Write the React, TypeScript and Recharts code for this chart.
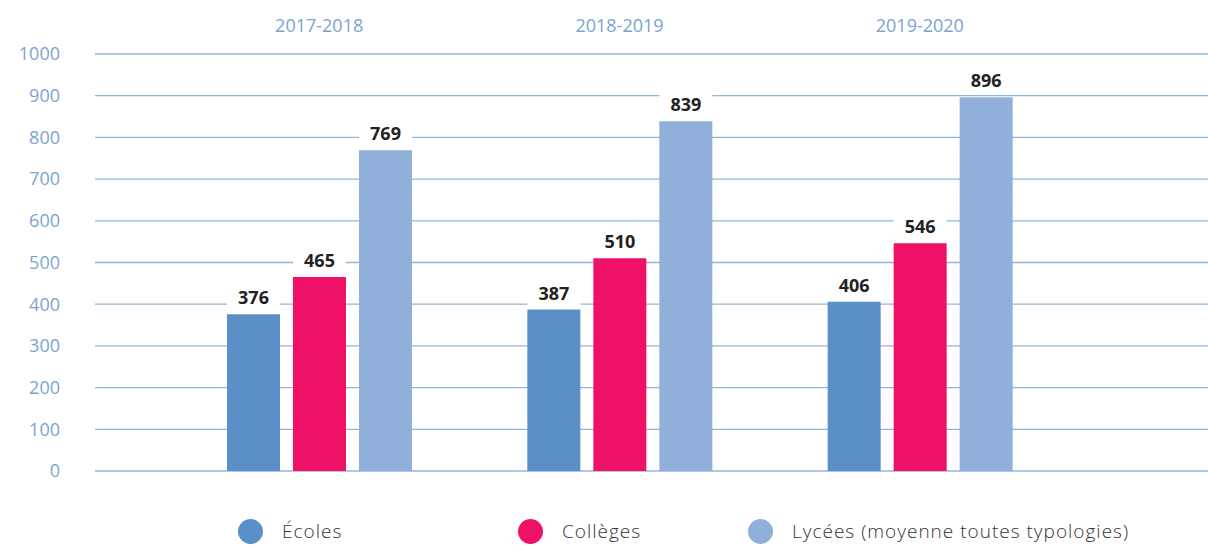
import React from "react";
import { BarChart, Bar, XAxis, YAxis, CartesianGrid, LabelList } from "recharts";

// ── data ─────────────────────────────────────────────────────────────────────

const categories = ["2017-2018", "2018-2019", "2019-2020"];
const ecoles = [376, 387, 406];
const colleges = [465, 510, 546];
const lycees = [769, 839, 896];
const yTicks = [0, 100, 200, 300, 400, 500, 600, 700, 800, 900, 1000];

const series = [
  { key: "ecoles", name: "Écoles", values: ecoles, color: "#5b8fc8" },
  { key: "colleges", name: "Collèges", values: colleges, color: "#ee1166" },
  { key: "lycees", name: "Lycées (moyenne toutes typologies)", values: lycees, color: "#90afd9" },
];

const data = categories.map((c, i) => {
  const row: Record<string, string | number> = { year: c };
  series.forEach((s) => { row[s.key] = s.values[i]; });
  return row;
});

const FONT = "'Open Sans', 'Noto Sans', sans-serif";
const GRID = "#93b4db";
const TICK = "#7ca3d2";

// white-backed value label sitting above each bar
// eslint-disable-next-line @typescript-eslint/no-explicit-any
function ValueLabel(props: any) {
  const { x, y, width, value } = props;
  return (
    <g>
      <rect x={x} y={y - 31} width={width} height={27} fill="#fff" />
      <text
        x={x + width / 2}
        y={y - 10}
        textAnchor="middle"
        fontFamily={FONT}
        fontWeight={700}
        fontSize={18}
        fill="#222"
      >
        {value}
      </text>
    </g>
  );
}

const legendWidths = [280, 230, 420];

export default function App() {
  return (
    <div style={{ position: "absolute", left: 0, top: 0, width: 1208, height: 545, background: "#fff" }}>
      <BarChart
        width={1208}
        height={500}
        data={data}
        margin={{ top: 14, right: 0, bottom: 29, left: 0 }}
        barSize={53}
        barGap={13}
      >
        <CartesianGrid vertical={false} stroke={GRID} strokeWidth={1.3} />
        <XAxis
          dataKey="year"
          orientation="top"
          height={40}
          axisLine={false}
          tickLine={false}
          tickSize={0}
          tickMargin={22}
          padding={{ left: 74, right: 138 }}
          tick={{ fill: TICK, fontSize: 18, fontFamily: FONT }}
        />
        <YAxis
          width={95}
          domain={[0, 1000]}
          ticks={yTicks}
          interval={0}
          axisLine={false}
          tickLine={false}
          tickSize={0}
          tickMargin={35}
          tick={{ fill: TICK, fontSize: 18, fontFamily: FONT }}
        />
        {series.map((s) => (
          <Bar key={s.key} dataKey={s.key} name={s.name} fill={s.color} isAnimationActive={false}>
            <LabelList dataKey={s.key} content={ValueLabel} />
          </Bar>
        ))}
      </BarChart>
      <div
        style={{
          position: "absolute",
          left: 238,
          top: 518,
          display: "flex",
          alignItems: "center",
          fontFamily: FONT,
          fontSize: 19,
          fontWeight: 300,
          letterSpacing: 1,
          color: "#333",
        }}
      >
        {series.map((s, i) => (
          <div key={s.key} style={{ display: "flex", alignItems: "center", width: legendWidths[i] }}>
            <span
              style={{
                display: "inline-block",
                width: 25,
                height: 25,
                borderRadius: "50%",
                background: s.color,
                marginRight: 19,
              }}
            />
            <span>{s.name}</span>
          </div>
        ))}
      </div>
    </div>
  );
}
